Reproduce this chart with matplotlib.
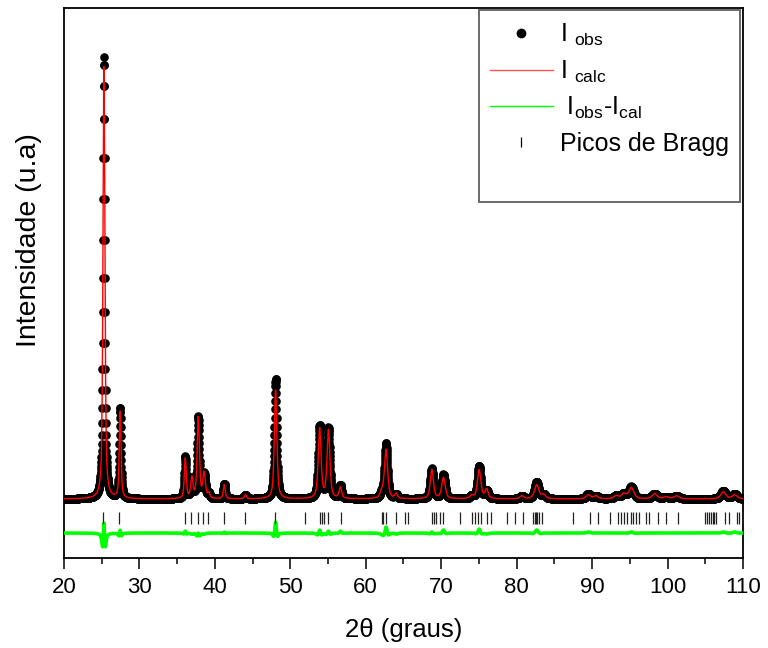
import numpy as np
import matplotlib
matplotlib.use("Agg")
import matplotlib.pyplot as plt
from matplotlib.lines import Line2D

plt.rcParams['font.family'] = ['Liberation Sans', 'DejaVu Sans']
plt.rcParams['mathtext.fontset'] = 'custom'
plt.rcParams['mathtext.rm'] = 'Liberation Sans'
plt.rcParams['mathtext.it'] = 'Liberation Sans'

# Reflections: position (2theta), calculated height, observed height, FWHM
peak_pos = [25.30, 27.45, 36.08, 36.95, 37.80, 38.58, 39.20, 41.25, 44.05, 48.05,
            53.89, 55.06, 56.64, 62.12, 62.69, 64.04, 68.76, 70.30, 74.03, 75.03,
            76.02, 80.70, 82.66, 83.60, 89.50, 90.50, 93.20, 94.20, 95.20, 98.30,
            99.80, 101.20, 107.40, 108.90]
calc_height = [4320, 870, 400, 200, 810, 250, 50, 140, 40, 1090,
               700, 680, 110, 60, 490, 50, 290, 210, 30, 290,
               90, 30, 140, 40, 40, 30, 30, 50, 110, 50,
               20, 30, 70, 40]
obs_height = [4420, 900, 420, 190, 810, 240, 50, 150, 40, 1200,
              730, 700, 130, 50, 550, 40, 300, 240, 30, 330,
              80, 30, 170, 40, 50, 30, 30, 50, 120, 50,
              20, 30, 80, 50]
calc_fwhm = [0.30, 0.28, 0.30, 0.35, 0.35, 0.40, 0.30, 0.30, 0.30, 0.40,
             0.45, 0.45, 0.40, 0.50, 0.50, 0.40, 0.50, 0.55, 0.50, 0.55,
             0.50, 0.60, 0.70, 0.60, 0.70, 0.70, 0.70, 0.70, 0.80, 0.80,
             0.80, 0.80, 0.80, 0.80]
obs_fwhm = [0.28, 0.26, 0.28, 0.35, 0.33, 0.40, 0.30, 0.28, 0.30, 0.36,
            0.42, 0.43, 0.36, 0.50, 0.44, 0.40, 0.47, 0.49, 0.50, 0.49,
            0.50, 0.60, 0.60, 0.60, 0.64, 0.70, 0.70, 0.70, 0.74, 0.80,
            0.80, 0.80, 0.74, 0.70]
background = 200

# Bragg reflection positions (anatase + rutile)
bragg_pos = [25.21, 27.33, 36.03, 36.82, 37.70, 38.45, 39.11, 41.19, 44.06, 48.03,
             52.00, 53.90, 54.20, 54.50, 55.00, 56.70, 62.10, 62.30, 62.70, 64.06,
             65.20, 65.60, 68.83, 69.05, 69.27, 69.80, 70.24, 72.45, 74.13, 74.44,
             74.88, 75.32, 76.07, 76.65, 78.72, 79.74, 80.84, 82.16, 82.38, 82.60,
             82.74, 82.96, 83.40, 87.46, 89.67, 90.77, 92.41, 93.42, 93.78, 94.17,
             94.66, 95.19, 95.41, 95.85, 96.20, 97.17, 97.53, 98.72, 99.83, 101.37,
             105.00, 105.20, 105.47, 105.78, 106.00, 106.22, 106.45, 107.68, 108.20,
             109.18, 109.54, 109.97]

two_theta = np.arange(20.0, 110.0001, 0.02)


def pseudo_voigt(x, x0, h, w, eta=0.6):
    lor = 1.0 / (1.0 + 4.0 * ((x - x0) / w) ** 2)
    gau = np.exp(-4.0 * np.log(2) * ((x - x0) / w) ** 2)
    return h * (eta * lor + (1 - eta) * gau)


calc = np.full_like(two_theta, background, dtype=float)
obs = np.full_like(two_theta, background, dtype=float)
for x0, hc, ho, wc, wo in zip(peak_pos, calc_height, obs_height, calc_fwhm, obs_fwhm):
    calc += pseudo_voigt(two_theta, x0, hc, wc)
    obs += pseudo_voigt(two_theta, x0, ho, wo)

diff_offset = -140
bragg_level = 5

fig = plt.figure(figsize=(7.68, 6.48), dpi=100)
ax = fig.add_axes([0.0833, 0.1389, 0.8841, 0.8488])

ax.plot(two_theta, obs, 'o', color='black', ms=6.2, mew=0, zorder=2)
ax.plot(two_theta, calc, '-', color='#ff0000', lw=1.0, zorder=3)
ax.plot(two_theta, obs - calc + diff_offset, '-', color='#00ff00', lw=2.6, zorder=3)
ax.plot(bragg_pos, [bragg_level] * len(bragg_pos), '|', color='#222222',
        ms=8, mew=0.9, zorder=4)

ax.set_xlim(20, 110)
ax.set_ylim(-390, 5110)
ax.set_xticks(np.arange(20, 111, 10))
ax.set_xticks(np.arange(25, 110, 10), minor=True)
ax.set_yticks([])
ax.tick_params(axis='x', which='major', direction='out', length=8, width=1.1,
               labelsize=16, pad=6)
ax.tick_params(axis='x', which='minor', direction='out', length=4, width=1.1)
for sp in ax.spines.values():
    sp.set_linewidth(1.3)

ax.set_xlabel('2θ (graus)', fontsize=18.5, labelpad=14)
ax.set_ylabel('Intensidade (u.a)', fontsize=20.5)
ax.yaxis.set_label_coords(-0.033, 0.578)

handles = [
    Line2D([], [], marker='o', color='black', ls='none', ms=6),
    Line2D([], [], color='#ff5555', lw=1.0),
    Line2D([], [], color='#00ff00', lw=1.0),
    Line2D([], [], marker='|', color='black', ls='none', ms=7, mew=0.9),
    Line2D([], [], color='none'),
]
labels = [r'I $_{\mathregular{obs}}$', r'I $_{\mathregular{calc}}$',
          r' I$_{\mathregular{obs}}$-I$_{\mathregular{cal}}$', 'Picos de Bragg', ' ']
leg = ax.legend(handles, labels, loc='upper right', fontsize=18, frameon=True,
                fancybox=False, handlelength=2.5, handletextpad=0.3,
                labelspacing=0.42, borderpad=0.45, borderaxespad=0.1)
leg.get_frame().set_edgecolor('#444444')
leg.get_frame().set_linewidth(1.4)

fig.savefig('out.png', dpi=100)
